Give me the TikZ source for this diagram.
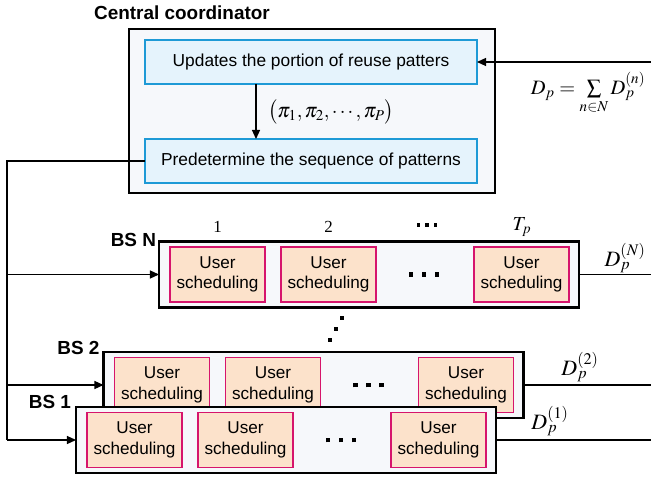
\documentclass[tikz,border=0pt]{standalone}
\usepackage{mathptmx}
\usepackage[no-math]{fontspec}
\setmainfont{Liberation Sans}
\newfontfamily\timesfont{Liberation Serif}
\usetikzlibrary{arrows.meta}
\definecolor{boxbg}{HTML}{F6F8FB}
\definecolor{bluebd}{HTML}{1E9AD6}
\definecolor{bluebg}{HTML}{E5F3FC}
\definecolor{pinkbd}{HTML}{D6156C}
\definecolor{peach}{HTML}{FCE2CB}
\newcommand{\sqdots}[2]{\rule{#1}{#1}\hspace{#2}\rule{#1}{#1}\hspace{#2}\rule{#1}{#1}}
\begin{document}
\begin{tikzpicture}[x=1bp,y=-1bp,
  every node/.style={inner sep=0pt, outer sep=0pt},
  outerbox/.style={draw=black, line width=2.2bp, fill=boxbg},
  bluebox/.style={draw=bluebd, line width=1.8bp, fill=bluebg, minimum width=332bp, minimum height=44bp, font=\fontsize{17.4}{20}\selectfont},
  usbox/.style={draw=pinkbd, line width=1.8bp, fill=peach, minimum width=95bp, minimum height=55bp, align=center, font=\fontsize{17.2}{20.5}\selectfont},
  bsbox/.style={outerbox, minimum width=420bp, minimum height=66bp},
  bslabel/.style={font=\bfseries\fontsize{19}{22}\selectfont},
  mathlbl/.style={font=\fontsize{20.5}{24}\selectfont},
  dlbl/.style={font=\fontsize{22}{25}\selectfont},
  numlbl/.style={font=\fontsize{17}{19}\selectfont},
  conn/.style={line width=1.2bp},
  arr/.style={conn, -{Triangle[length=9bp,width=8bp]}},
  sq/.style={fill=black, minimum size=4.2bp}
]
\useasboundingbox (0,0) rectangle (651,479);

% central coordinator
\node[bslabel] (title) at (182,13) {Central coordinator};
\node[outerbox, minimum width=366bp, minimum height=164bp] (cc) at (312,111) {};
\node[bluebox] (upd) at (311,62) {Updates the portion of reuse patters};
\node[bluebox] (pre) at (311,161) {Predetermine the sequence of patterns};
\draw[arr] ([xshift=-55bp]upd.south) -- ([xshift=-55bp]pre.north);
\node[mathlbl] (pis) at (331,112) {$\bigl(\pi_1,\pi_2,\cdots,\pi_P\bigr)$};
\coordinate (inp) at (651,62);
\draw[arr] (inp) -- (upd.east);
\node[mathlbl] (sum) at (588,93) {$D_p=\sum\limits_{n\in N} D_p^{(n)}$};

% BS N
\node[bsbox] (bsN) at (369,274.5) {};
\node[bslabel, anchor=east] (lN) at ([xshift=-3bp,yshift=2bp]bsN.north west) {BS N};
\node[usbox] (uN1) at ([xshift=58.5bp]bsN.west) {User\\scheduling};
\node[usbox] (uN2) at ([xshift=169.5bp]bsN.west) {User\\scheduling};
\node[usbox] (uN3) at ([xshift=362.5bp]bsN.west) {User\\scheduling};
\node (dN) at ([xshift=265bp]bsN.west) {\sqdots{4.5bp}{8.5bp}};
\node[numlbl] (t1) at (217.5,227) {\timesfont 1};
\node[numlbl] (t2) at (328.5,227) {\timesfont 2};
\node (tdots) at (427,225) {\sqdots{3.2bp}{5bp}};
\node[numlbl, font=\fontsize{20}{22}\selectfont] (tp) at (522,227) {$T_p$};

% vertical dots
\node[sq] (v1) at (342,318) {};
\node[sq] (v2) at (336,329) {};
\node[sq] (v3) at (330,340) {};

% BS 2
\node[bsbox] (bs2) at (313.5,385) {};
\node[bslabel, anchor=east] (l2) at ([xshift=-4bp,yshift=4bp]bs2.north west) {BS 2};
\node[usbox] (u21) at ([xshift=58.5bp]bs2.west) {User\\scheduling};
\node[usbox] (u22) at ([xshift=169.5bp]bs2.west) {User\\scheduling};
\node[usbox] (u23) at ([xshift=362.5bp]bs2.west) {User\\scheduling};
\node (d2) at ([xshift=265bp]bs2.west) {\sqdots{4.5bp}{8.5bp}};

% BS 1
\node[bsbox] (bs1) at (286,440) {};
\node[bslabel, anchor=east] (l1) at ([xshift=-5bp,yshift=5bp]bs1.north west) {BS 1};
\node[usbox] (u11) at ([xshift=58.5bp]bs1.west) {User\\scheduling};
\node[usbox] (u12) at ([xshift=169.5bp]bs1.west) {User\\scheduling};
\node[usbox] (u13) at ([xshift=362.5bp]bs1.west) {User\\scheduling};
\node (d1) at ([xshift=265bp]bs1.west) {\sqdots{4.5bp}{8.5bp}};

% feedback connectors
\coordinate (fbx) at (7,0);
\draw[conn] (pre.west) -- (pre.west -| fbx) -- (fbx |- bs1.west);
\draw[arr] (fbx |- bsN.west) -- (bsN.west);
\draw[arr] (fbx |- bs2.west) -- (bs2.west);
\draw[arr] (fbx |- bs1.west) -- (bs1.west);

% outputs
\coordinate (outx) at (651,0);
\draw[conn] (bsN.east) -- (bsN.east -| outx);
\draw[conn] (bs2.east) -- (bs2.east -| outx);
\draw[conn] (bs1.east) -- (bs1.east -| outx);
\node[dlbl, anchor=south] (DN) at (625,273) {$D_p^{(N)}$};
\node[dlbl, anchor=south] (D2) at (580,382) {$D_p^{(2)}$};
\node[dlbl, anchor=south] (D1) at (550,436) {$D_p^{(1)}$};
\end{tikzpicture}
\end{document}
